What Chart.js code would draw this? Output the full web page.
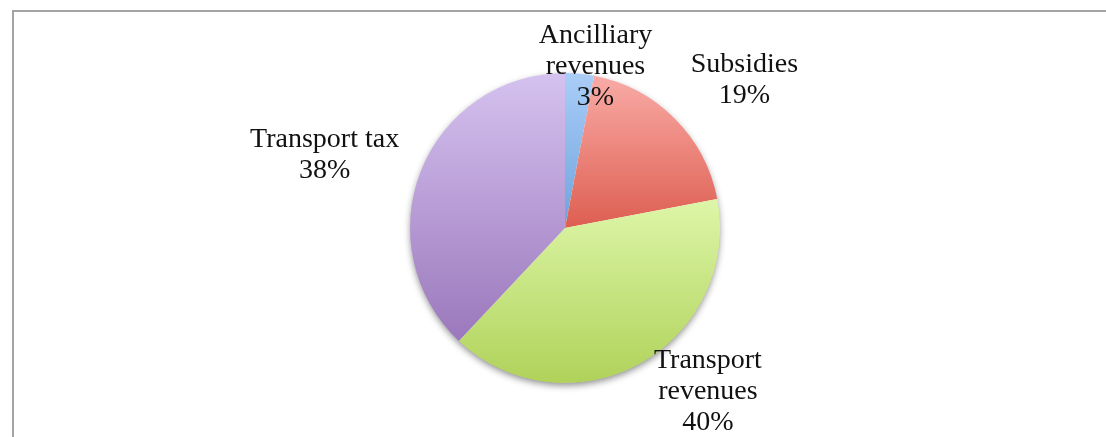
<!DOCTYPE html>
<html>
<head>
<meta charset="utf-8">
<script src="https://cdn.jsdelivr.net/npm/chart.js@4/dist/chart.umd.min.js"></script>
<style>
  html, body { margin: 0; padding: 0; background: #fff; }
  #wrap { position: relative; width: 1106px; height: 437px; overflow: hidden; }
  #frame { position: absolute; left: 12px; top: 10px; width: 1200px; height: 600px;
           border-top: 2px solid #a3a3a3; border-left: 2px solid #a3a3a3; }
  #my-chart { position: absolute; left: 0; top: 0; }
</style>
</head>
<body>
<div id="wrap">
  <div id="frame"></div>
  <canvas id="my-chart" width="1106" height="437"></canvas>
</div>
<script>
// categories, one entry per slice (lines of the label)
var categories = [
  ['Ancilliary', 'revenues'],
  ['Subsidies'],
  ['Transport', 'revenues'],
  ['Transport tax']
];
// share of revenue, %
var shares = [3, 19, 40, 38];

// gradient colours per slice, top -> bottom
var topColors = ['#aacdf7', '#f9aba6', '#ddf6a8', '#d5c2ef'];
var bottomColors = ['#6ea3dd', '#de5e51', '#b0d25a', '#9b78bc'];

// where each label sits: radius factor and angle nudge (deg) from the slice middle
var labelPlace = [
  { f: 1.06, nudge: 5.3 },
  { f: 1.50, nudge: 5.5 },
  { f: 1.40, nudge: -12.4 },
  { f: 1.62, nudge: -4.8 }
];

var sliceAngles = function(i) {
  var total = 0, before = 0;
  for (var k = 0; k < shares.length; k++) {
    total += shares[k];
    if (k < i) before += shares[k];
  }
  var start = -Math.PI / 2 + 2 * Math.PI * before / total;
  var end = start + 2 * Math.PI * shares[i] / total;
  return [start, end];
};

var sliceFill = function(context) {
  var chart = context.chart;
  var area = chart.chartArea;
  if (!area) return topColors[context.dataIndex];
  var i = context.dataIndex;
  var cx = (area.left + area.right) / 2;
  var cy = (area.top + area.bottom) / 2;
  var r = Math.min(area.right - area.left, area.bottom - area.top) / 2;
  var a = sliceAngles(i);
  var ys = [cy, cy + r * Math.sin(a[0]), cy + r * Math.sin(a[1])];
  if (a[0] <= Math.PI / 2 && a[1] >= Math.PI / 2) ys.push(cy + r);
  if (a[0] <= -Math.PI / 2 + 1e-9 || a[1] >= 3 * Math.PI / 2 - 1e-9) ys.push(cy - r);
  var y0 = Math.min.apply(null, ys), y1 = Math.max.apply(null, ys);
  var g = chart.ctx.createLinearGradient(0, y0, 0, y1);
  g.addColorStop(0, topColors[i]);
  g.addColorStop(1, bottomColors[i]);
  return g;
};

var pieShadow = {
  id: 'pieShadow',
  beforeDatasetsDraw: function(chart) {
    var arc = chart.getDatasetMeta(0).data[0];
    if (!arc) return;
    var ctx = chart.ctx;
    ctx.save();
    ctx.shadowColor = 'rgba(0,0,0,0.45)';
    ctx.shadowBlur = 7;
    ctx.shadowOffsetY = 3;
    ctx.fillStyle = '#ffffff';
    ctx.beginPath();
    ctx.arc(arc.x, arc.y, arc.outerRadius - 0.5, 0, 2 * Math.PI);
    ctx.fill();
    ctx.restore();
  }
};

var sliceLabels = {
  id: 'sliceLabels',
  afterDatasetsDraw: function(chart) {
    var arcs = chart.getDatasetMeta(0).data;
    var ctx = chart.ctx;
    var total = shares.reduce(function(s, v) { return s + v; }, 0);
    ctx.save();
    ctx.font = '28px "Liberation Serif", "DejaVu Serif", serif';
    ctx.fillStyle = '#111';
    ctx.textAlign = 'center';
    ctx.textBaseline = 'middle';
    for (var i = 0; i < arcs.length; i++) {
      var arc = arcs[i];
      var mid = (arc.startAngle + arc.endAngle) / 2 + labelPlace[i].nudge * Math.PI / 180;
      var d = arc.outerRadius * labelPlace[i].f;
      var x = arc.x + d * Math.cos(mid);
      var y = arc.y + d * Math.sin(mid);
      var lines = categories[i].concat([Math.round(shares[i] / total * 100) + '%']);
      for (var j = 0; j < lines.length; j++) {
        ctx.fillText(lines[j], x, y + (j - (lines.length - 1) / 2) * 31);
      }
    }
    ctx.restore();
  }
};

var create = function() {
  var ctx = document.getElementById('my-chart');
  var myChart = new Chart(ctx, {
    type: 'pie',
    data: {
      labels: categories.map(function(c) { return c.join(' '); }),
      datasets: [{
        data: shares,
        backgroundColor: sliceFill,
        borderWidth: 0
      }]
    },
    options: {
      responsive: false,
      animation: false,
      layout: { padding: { top: 73, bottom: 54, left: 24, right: 0 } },
      plugins: {
        legend: { display: false },
        tooltip: { enabled: false }
      }
    },
    plugins: [pieShadow, sliceLabels]
  });
};

create();
</script>
</body>
</html>
